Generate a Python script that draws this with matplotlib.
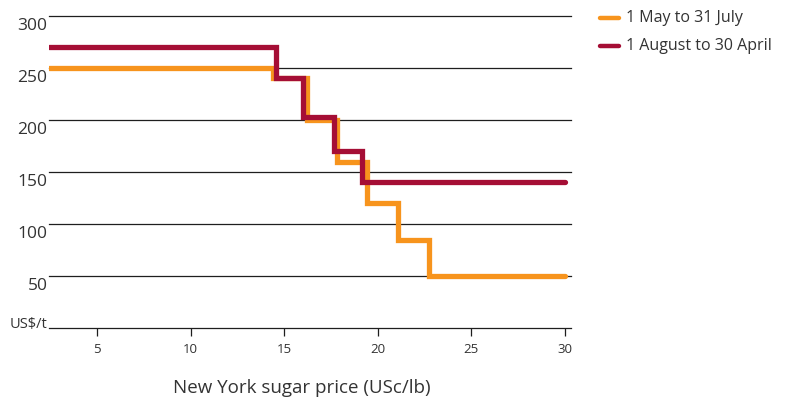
import matplotlib
matplotlib.use("Agg")
import matplotlib.pyplot as plt
from matplotlib.lines import Line2D
from matplotlib import transforms

plt.rcParams['font.family'] = ['Open Sans', 'DejaVu Sans']

# Step schedules: price thresholds (USc/lb) and levy levels (US$/t)
may_july_x = [2.43, 14.40, 16.20, 17.84, 19.44, 21.10, 22.76, 30.0]
may_july_y = [250, 240, 200, 160, 120, 85, 50, 50]

aug_april_x = [2.43, 14.54, 16.02, 17.66, 19.14, 30.0]
aug_april_y = [270, 240, 203, 170, 140, 140]

series_labels = ["1 May to 31 July", "1 August to 30 April"]
series_colors = ["#F7941D", "#A50E35"]

x_ticks = [5, 10, 15, 20, 25, 30]
y_ticks = [0, 50, 100, 150, 200, 250, 300]
y_tick_labels = ["US$/t", "50", "100", "150", "200", "250", "300"]
x_title = "New York sugar price (USc/lb)"

text_col = "#333333"
grid_col = "#1e1e1e"

W, H = 792, 400
fig = plt.figure(figsize=(W / 100, H / 100), dpi=100)
ax = fig.add_axes([49 / W, 1 - 328 / H, (571 - 49) / W, (328 - 16) / H])
ax.set_xlim(2.43, 30.33)
ax.set_ylim(0, 300)

for s in ax.spines.values():
    s.set_visible(False)

# horizontal rules, including the baseline
for yv in y_ticks:
    ax.axhline(yv, color=grid_col, lw=0.9, clip_on=False, zorder=1)

ax.step(may_july_x, may_july_y, where='post', color=series_colors[0], lw=3.8,
        solid_capstyle='round', solid_joinstyle='miter', zorder=3)
ax.step(aug_april_x, aug_april_y, where='post', color=series_colors[1], lw=3.8,
        solid_capstyle='round', solid_joinstyle='miter', zorder=4)

ax.set_xticks(x_ticks)
ax.set_xticklabels([str(v) for v in x_ticks], fontsize=9.5, color=text_col)
ax.tick_params(axis='x', direction='out', length=6, width=0.9, color=grid_col, pad=5)

ax.set_yticks(y_ticks)
ax.set_yticklabels(y_tick_labels, color=text_col)
ax.tick_params(axis='y', length=0, pad=1)
for lab, yv in zip(ax.get_yticklabels(), y_ticks):
    if yv == 0:
        lab.set_fontsize(10.5)
        lab.set_va('baseline')
    else:
        lab.set_fontsize(12.5)
        lab.set_va('top')
        lab.set_transform(lab.get_transform() + transforms.ScaledTranslation(0, -1.5 / 72, fig.dpi_scale_trans))

fig.text(302 / W, 1 - 393 / H, x_title, ha='center', va='baseline', fontsize=13.5, color=text_col)

# legend
for i, (lab, col) in enumerate(zip(series_labels, series_colors)):
    yy = 1 - (17.5 + 28 * i) / H
    fig.add_artist(Line2D([600 / W, 619 / W], [yy, yy], color=col, lw=3.2,
                          solid_capstyle='round', transform=fig.transFigure))
    fig.text(626 / W, yy, lab, ha='left', va='center', fontsize=11.5, color=text_col)

fig.savefig("out.png", dpi=100)
